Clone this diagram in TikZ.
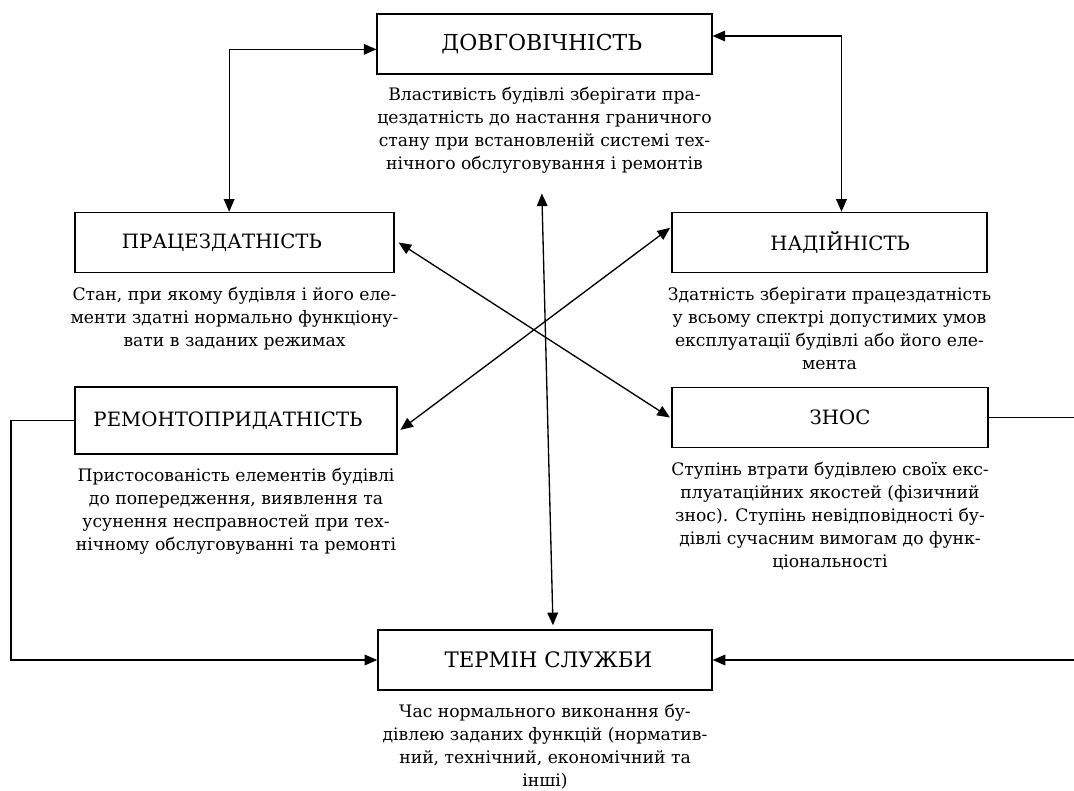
\documentclass[tikz,border=0pt]{standalone}
\usepackage{fontspec}
\setmainfont{DejaVu Serif}
\usetikzlibrary{arrows.meta,positioning}

\begin{document}
\begin{tikzpicture}[x=0.75pt,y=-0.75pt,
  box/.style={draw, line width=1.1pt, inner sep=0pt, minimum height=45pt,
    font=\fontsize{14.8}{18}\selectfont},
  desc/.style={align=center, inner sep=0pt, font=\fontsize{12.9}{17.25}\selectfont},
  both/.style={line width=1pt, {Triangle[length=9.5pt,width=8pt]}-{Triangle[length=9.5pt,width=8pt]}},
  one/.style={line width=1pt, -{Triangle[length=9.5pt,width=8pt]}}
]
\useasboundingbox (0,0) rectangle (1074,790);

% ================= BOXES =================
\node[box, minimum width=251pt, font=\fontsize{16.5}{20}\selectfont] (dov) at (544.5,44) {ДОВГОВІЧНІСТЬ\kern4pt};
\node[box, minimum width=239pt] (prac) at (234.5,242.5) {ПРАЦЕЗДАТНІСТЬ\kern19pt};
\node[box, minimum width=236pt] (nad) at (829.5,242.5) {\kern16pt НАДІЙНІСТЬ};
\node[box, minimum width=241.5pt, minimum height=50pt] (rem) at (236,420.5) {\raisebox{-3pt}{РЕМОНТОПРИДАТНІСТЬ}\kern12pt};
\node[box, minimum width=237pt] (znos) at (830,417.5) {\kern15pt ЗНОС};
\node[box, minimum width=250.5pt, font=\fontsize{16}{20}\selectfont] (term) at (545,660) {\kern5pt ТЕРМІН СЛУЖБИ};

% ================= DESCRIPTIONS =================
\node[desc, below=9pt of dov] (dovtxt)
{Властивість будівлі зберігати пра-\\
цездатність до настання граничного\\
стану при встановленій системі тех-\\
нічного обслуговування і ремонтів};

\node[desc, below=10.5pt of prac] (practxt)
{Стан, при якому будівля і його еле-\\
менти здатні нормально функціону-\\
вати в заданих режимах};

\node[desc, below=10.5pt of nad] (nadtxt)
{Здатність зберігати працездатність\\
у всьому спектрі допустимих умов\\
експлуатації будівлі або його еле-\\
мента};

\node[desc, below=10pt of rem] (remtxt)
{Пристосованість елементів будівлі\\
до попередження, виявлення та\\
усунення несправностей при тех-\\
нічному обслуговуванні та ремонті};

\node[desc, below=10pt of znos] (znostxt)
{Ступінь втрати будівлею своїх екс-\\
плуатаційних якостей (фізичний\\
знос). Ступінь невідповідності бу-\\
дівлі сучасним вимогам до функ-\\
ціональності};

\node[desc, below=10pt of term] (termtxt)
{Час нормального виконання бу-\\
дівлею заданих функцій (норматив-\\
ний, технічний, економічний та\\
інші)};

% ================= CONNECTORS =================
\coordinate (lc) at (11,420.5);
\coordinate (rc) at (1080,417.5); % just past the page edge

\draw[both] ([xshift=-4pt]prac.north) |- ([yshift=-4pt]dov.west);
\draw[both] ([xshift=9pt]nad.north) |- ([yshift=6pt]dov.east);

\draw[both] ([xshift=3pt]prac.east) -- ([xshift=-1pt]znos.west);
\draw[both] ([xshift=2pt,yshift=-7pt]rem.east) -- ([xshift=-1pt,yshift=11pt]nad.west);

\draw[both] ([xshift=-2pt,yshift=-15pt]dovtxt.south) -- ([xshift=6pt,yshift=3pt]term.north);

\draw[one] (rem.west) -- (lc) |- (term.west);
\draw[one] (znos.east) -- (rc) |- (term.east);

\end{tikzpicture}
\end{document}
